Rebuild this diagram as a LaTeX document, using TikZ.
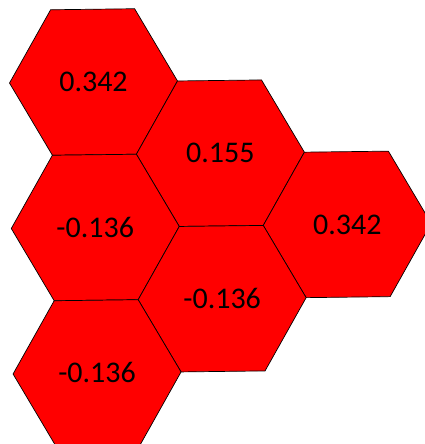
\documentclass[tikz,border=0pt]{standalone}
\usepackage{fontspec}
\setmainfont{Carlito}
\usetikzlibrary{calc}
\tikzset{
  hexa/.style={draw=black, fill=red, line width=0.7pt, line join=miter},
  val/.style={font=\fontsize{30}{36}\selectfont, text=black, inner sep=0pt}
}
\newcommand{\hexagonat}[1]{%
  \draw[hexa] (#1) ++(0.7:84pt) -- ++(120.7:84pt) -- ++(180.7:84pt) -- ++(240.7:84pt) -- ++(300.7:84pt) -- ++(0.7:84pt) -- cycle;}
\begin{document}
\begin{tikzpicture}
\useasboundingbox (0,0) rectangle (425pt,444pt);
\clip (0,0) rectangle (425pt,444pt);
\coordinate (c1) at (93.5pt,362pt);
\coordinate (c2) at ($(c1)+(-29.3:145.5pt)$);
\coordinate (c3) at ($(c2)+(-29.3:145.5pt)$);
\coordinate (c4) at ($(c1)+(-89.3:145.5pt)$);
\coordinate (c5) at ($(c4)+(-29.3:145.5pt)$);
\coordinate (c6) at ($(c4)+(-89.3:145.5pt)$);
\hexagonat{c1}
\hexagonat{c2}
\hexagonat{c3}
\hexagonat{c4}
\hexagonat{c5}
\hexagonat{c6}
\node[val] (t1) at (c1) {0.342};
\node[val] (t2) at (c2) {0.155};
\node[val] (t3) at (c3) {0.342};
\node[val] (t4) at (c4) {-0.136};
\node[val] (t5) at (c5) {-0.136};
\node[val] (t6) at (c6) {-0.136};
\end{tikzpicture}
\end{document}
